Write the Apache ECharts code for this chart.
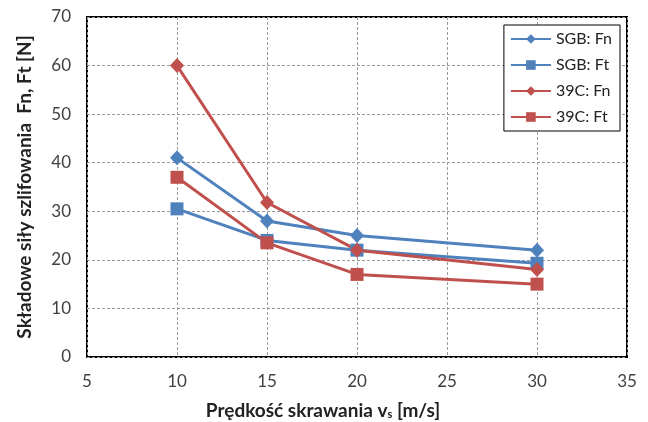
<!DOCTYPE html>
<html>
<head>
<meta charset="utf-8">
<script src="https://cdn.jsdelivr.net/npm/echarts@6/dist/echarts.min.js"></script>
<style>
  html, body { margin: 0; padding: 0; background: #fff; }
  #chart { width: 648px; height: 422px; }
</style>
</head>
<body>
<div id="chart"></div>
<script>
// prędkość skrawania [m/s]
var speeds = [10, 15, 20, 30]
// składowe siły [N]
var sgbFn = [41, 28, 25, 22]
var sgbFt = [30.5, 24, 22, 19.3]
var c39Fn = [60, 31.8, 22, 18]
var c39Ft = [37, 23.5, 17, 15]
var seriesNames = ['SGB: Fn', 'SGB: Ft', '39C: Fn', '39C: Ft']

var FONT = 'Lato'

function pairs(vals) {
  return speeds.map(function (x, i) { return [x, vals[i]] })
}

function makeLine(name, vals, color, symbol) {
  return {
    name: name,
    type: 'line',
    data: pairs(vals),
    symbol: symbol,
    symbolSize: symbol === 'diamond' ? [14, 15] : 13,
    lineStyle: { width: 3, color: color },
    itemStyle: { color: color },
    emphasis: { disabled: true }
  }
}

var chart = echarts.init(document.getElementById('chart'))

chart.setOption({
  animation: false,
  textStyle: { fontFamily: FONT },
  grid: {
    left: 87, right: 21, top: 17, bottom: 65,
    outerBoundsMode: 'none',
    containLabel: false,
    show: true,
    borderColor: '#000',
    borderWidth: 2,
    backgroundColor: '#fff'
  },
  legend: {
    orient: 'vertical',
    right: 28,
    top: 25,
    itemWidth: 40,
    itemHeight: 12,
    itemGap: 10,
    padding: [6, 8, 6, 6],
    borderColor: '#000',
    borderWidth: 1,
    backgroundColor: '#fff',
    data: seriesNames,
    textStyle: { fontFamily: FONT, fontSize: 16, color: '#222' }
  },
  xAxis: {
    type: 'value',
    min: 5,
    max: 35,
    interval: 5,
    name: '{b|Prędkość skrawania v}{s|s}{b| [m/s]}',
    nameLocation: 'middle',
    nameGap: 44,
    nameTextStyle: {
      padding: [0, 68, 0, 0],
      rich: {
        b: { fontFamily: FONT, fontSize: 19, fontWeight: 'bold', color: '#222' },
        s: { fontFamily: FONT, fontSize: 11, fontWeight: 'bold', color: '#222', verticalAlign: 'bottom', padding: [8, 0, 0, 0] }
      }
    },
    axisLine: { show: false },
    axisTick: { show: false },
    axisLabel: { fontFamily: FONT, fontSize: 17, color: '#404040', margin: 16 },
    splitLine: { show: true, lineStyle: { color: '#9a9a9a', type: [3, 2], width: 1 } }
  },
  yAxis: {
    type: 'value',
    min: 0,
    max: 70,
    interval: 10,
    name: 'Składowe siły szlifowania  Fn, Ft [N]',
    nameLocation: 'middle',
    nameGap: 53,
    nameTextStyle: { fontFamily: FONT, fontSize: 19, fontWeight: 'bold', color: '#222' },
    axisLine: { show: false },
    axisTick: { show: false },
    axisLabel: { fontFamily: FONT, fontSize: 17, color: '#404040', margin: 16 },
    splitLine: { show: true, lineStyle: { color: '#9a9a9a', type: [3, 2], width: 1 } }
  },
  series: [
    makeLine(seriesNames[0], sgbFn, '#4F81BD', 'diamond'),
    makeLine(seriesNames[1], sgbFt, '#4F81BD', 'rect'),
    makeLine(seriesNames[2], c39Fn, '#C0504D', 'diamond'),
    makeLine(seriesNames[3], c39Ft, '#C0504D', 'rect')
  ]
})
</script>
</body>
</html>
